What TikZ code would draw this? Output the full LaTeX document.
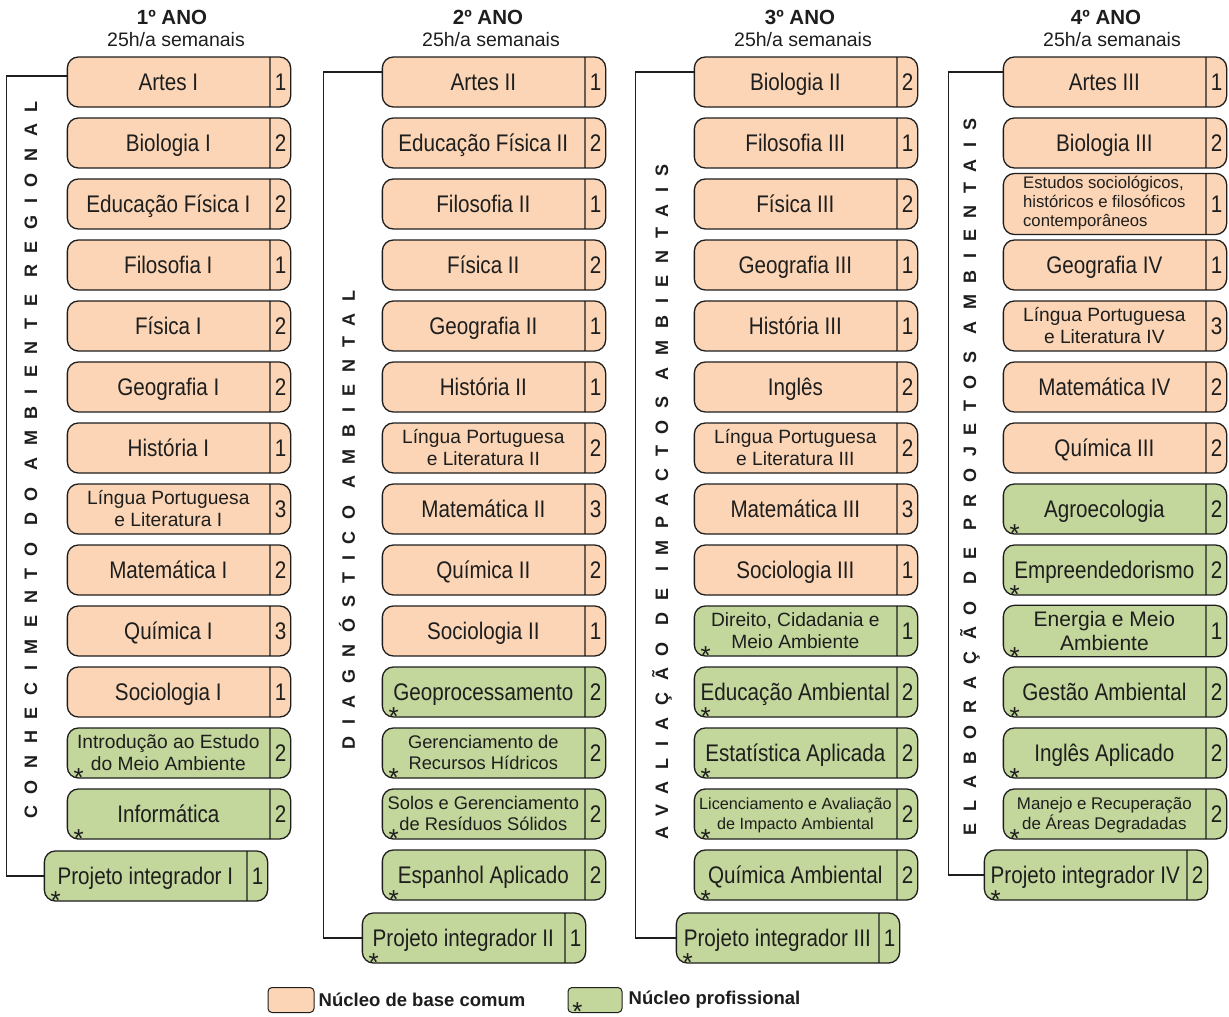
\documentclass[tikz,border=0pt]{standalone}
\usepackage{fontspec}
\setmainfont{Liberation Sans}
\newfontfamily\narrowfont{Liberation Sans}[FakeStretch=0.86]
\newfontfamily\spacedfont{Liberation Sans}[LetterSpace=65]
\usetikzlibrary{positioning,shapes.multipart}

\definecolor{peach}{RGB}{251,213,181}
\definecolor{leaf}{RGB}{195,214,155}
\definecolor{ink}{RGB}{30,30,30}

% strut that centres the capitals of the current font
\newcommand{\tstrut}{\vrule height\dimexpr\fontcharht\font`A+\fontchardp\font`g\relax depth\fontchardp\font`g width 0pt}
% one subject: name on the left, weekly hours on the right
\newcommand{\disc}[3][]{\parbox{196pt}{#1\centering\tstrut#2\tstrut}\nodepart{two}\makebox[14pt]{\tstrut#3}}
\newcommand{\sz}[2]{\rmfamily\fontsize{#1}{#2}\selectfont}
% asterisk of the professional subjects, boxed tight round the glyph
\newcommand{\starsign}{\raisebox{-0.41em}[0.31em][0pt]{*}}

\tikzset{
  disc/.style = {rectangle split, rectangle split horizontal, rectangle split parts=2,
    rectangle split part align=center, draw=ink, line width=1.3pt, rounded corners=11pt,
    minimum height=50pt, inner xsep=3pt, inner ysep=2pt, text=ink,
    font=\narrowfont\fontsize{24}{24}\selectfont},
  common/.style = {disc, fill=peach},
  prof/.style = {disc, fill=leaf, label={[starmark]south west:\starsign}},
  starmark/.style = {anchor=center, inner sep=0pt, xshift=12pt, yshift=6.5pt,
    font=\rmfamily\fontsize{26}{26}\selectfont, text=ink},
  bracket/.style = {draw=ink, line width=1.3pt},
  theme/.style = {rotate=90, text=ink, font=\spacedfont\bfseries\fontsize{18}{18}\selectfont},
  yearhd/.style = {text=ink, font=\bfseries\fontsize{20.5}{20.5}\selectfont},
  hours/.style = {text=ink, font=\fontsize{19.5}{19.5}\selectfont},
  legbox/.style = {draw=ink, line width=1pt, rounded corners=4pt, minimum height=25pt, inner sep=0pt},
  legtext/.style = {text=ink, inner sep=1pt, font=\bfseries\fontsize{18.5}{18.5}\selectfont}
}

\begin{document}
\begin{tikzpicture}[x=1pt, y=-1pt, node distance=61pt]
  \path[use as bounding box, fill=white] (0,0) rectangle (1229,1017);

  % headers
  \node[yearhd] (h1) at (172,17) {1º ANO};
  \node[hours] (s1) at (176,40) {25h/a semanais};
  \node[yearhd] (h2) at (488,17) {2º ANO};
  \node[hours] (s2) at (491,40) {25h/a semanais};
  \node[yearhd] (h3) at (800,17) {3º ANO};
  \node[hours] (s3) at (803,40) {25h/a semanais};
  \node[yearhd] (h4) at (1106,17) {4º ANO};
  \node[hours] (s4) at (1112,40) {25h/a semanais};

  % 1st year
  \node[common] (a1) at (179,82) {\disc{Artes I}{1}};
  \node[common] (a2) [below of=a1] {\disc{Biologia I}{2}};
  \node[common] (a3) [below of=a2] {\disc{Educação Física I}{2}};
  \node[common] (a4) [below of=a3] {\disc{Filosofia I}{1}};
  \node[common] (a5) [below of=a4] {\disc{Física I}{2}};
  \node[common] (a6) [below of=a5] {\disc{Geografia I}{2}};
  \node[common] (a7) [below of=a6] {\disc{História I}{1}};
  \node[common] (a8) [below of=a7] {\disc[\sz{19.2}{22}]{Língua Portuguesa\\ e Literatura I}{3}};
  \node[common] (a9) [below of=a8] {\disc{Matemática I}{2}};
  \node[common] (a10) [below of=a9] {\disc{Química I}{3}};
  \node[common] (a11) [below of=a10] {\disc{Sociologia I}{1}};
  \node[prof] (a12) [below of=a11] {\disc[\sz{19.2}{22}]{Introdução ao Estudo\\ do Meio Ambiente}{2}};
  \node[prof] (a13) [below of=a12] {\disc{Informática}{2}};
  \node[prof] (ap) at (156,876) {\disc{Projeto integrador I}{1}};

  % 2nd year
  \node[common] (b1) at (494,82) {\disc{Artes II}{1}};
  \node[common] (b2) [below of=b1] {\disc{Educação Física II}{2}};
  \node[common] (b3) [below of=b2] {\disc{Filosofia II}{1}};
  \node[common] (b4) [below of=b3] {\disc{Física II}{2}};
  \node[common] (b5) [below of=b4] {\disc{Geografia II}{1}};
  \node[common] (b6) [below of=b5] {\disc{História II}{1}};
  \node[common] (b7) [below of=b6] {\disc[\sz{19.2}{22}]{Língua Portuguesa\\ e Literatura II}{2}};
  \node[common] (b8) [below of=b7] {\disc{Matemática II}{3}};
  \node[common] (b9) [below of=b8] {\disc{Química II}{2}};
  \node[common] (b10) [below of=b9] {\disc{Sociologia II}{1}};
  \node[prof] (b11) [below of=b10] {\disc{Geoprocessamento}{2}};
  \node[prof] (b12) [below of=b11] {\disc[\sz{18.3}{21}]{Gerenciamento de\\ Recursos Hídricos}{2}};
  \node[prof] (b13) [below of=b12] {\disc[\sz{18.3}{21}]{Solos e Gerenciamento\\ de Resíduos Sólidos}{2}};
  \node[prof] (b14) [below of=b13] {\disc{Espanhol Aplicado}{2}};
  \node[prof] (bp) at (474,938) {\disc{Projeto integrador II}{1}};

  % 3rd year
  \node[common] (c1) at (806,82) {\disc{Biologia II}{2}};
  \node[common] (c2) [below of=c1] {\disc{Filosofia III}{1}};
  \node[common] (c3) [below of=c2] {\disc{Física III}{2}};
  \node[common] (c4) [below of=c3] {\disc{Geografia III}{1}};
  \node[common] (c5) [below of=c4] {\disc{História III}{1}};
  \node[common] (c6) [below of=c5] {\disc{Inglês}{2}};
  \node[common] (c7) [below of=c6] {\disc[\sz{19.2}{22}]{Língua Portuguesa\\ e Literatura III}{2}};
  \node[common] (c8) [below of=c7] {\disc{Matemática III}{3}};
  \node[common] (c9) [below of=c8] {\disc{Sociologia III}{1}};
  \node[prof] (c10) [below of=c9] {\disc[\sz{19.2}{22}]{Direito, Cidadania e\\ Meio Ambiente}{1}};
  \node[prof] (c11) [below of=c10] {\disc{Educação Ambiental}{2}};
  \node[prof] (c12) [below of=c11] {\disc{Estatística Aplicada}{2}};
  \node[prof] (c13) [below of=c12] {\disc[\sz{16.2}{20}]{Licenciamento e Avaliação\\ de Impacto Ambiental}{2}};
  \node[prof] (c14) [below of=c13] {\disc{Química Ambiental}{2}};
  \node[prof] (cp) at (788,938) {\disc{Projeto integrador III}{1}};

  % 4th year
  \node[common] (d1) at (1115,82) {\disc{Artes III}{1}};
  \node[common] (d2) [below of=d1] {\disc{Biologia III}{2}};
  \node[common] (d3) [below of=d2] {\disc[\sz{16.7}{19}]{\begin{tabular}{@{}l@{}}Estudos sociológicos,\\ históricos e filosóficos\\ contemporâneos\end{tabular}}{1}};
  \node[common] (d4) [below of=d3] {\disc{Geografia IV}{1}};
  \node[common] (d5) [below of=d4] {\disc[\sz{19.2}{22}]{Língua Portuguesa\\ e Literatura IV}{3}};
  \node[common] (d6) [below of=d5] {\disc{Matemática IV}{2}};
  \node[common] (d7) [below of=d6] {\disc{Química III}{2}};
  \node[prof] (d8) [below of=d7] {\disc{Agroecologia}{2}};
  \node[prof] (d9) [below of=d8] {\disc{Empreendedorismo}{2}};
  \node[prof] (d10) [below of=d9] {\disc[\sz{21}{22}]{Energia e Meio\\ Ambiente}{1}};
  \node[prof] (d11) [below of=d10] {\disc{Gestão Ambiental}{2}};
  \node[prof] (d12) [below of=d11] {\disc{Inglês Aplicado}{2}};
  \node[prof] (d13) [below of=d12] {\disc[\sz{16.9}{20}]{Manejo e Recuperação\\ de Áreas Degradadas}{2}};
  \node[prof] (dp) at (1096,875) {\disc{Projeto integrador IV}{2}};

  % themes of each year
  \node[theme] (t1) at (31,460) {CONHECIMENTO DO AMBIENTE REGIONAL};
  \node[theme] (t2) at (347,520) {DIAGNÓSTICO AMBIENTAL};
  \node[theme] (t3) at (662,502) {AVALIAÇÃO DE IMPACTOS AMBIENTAIS};
  \node[theme] (t4) at (970,477) {ELABORAÇÃO DE PROJETOS AMBIENTAIS};

  \draw[bracket] ([yshift=6pt]a1.west) -- ++(-60,0) |- (ap.west);
  \draw[bracket] ([yshift=10pt]b1.west) -- ++(-58,0) |- (bp.west);
  \draw[bracket] ([yshift=10pt]c1.west) -- ++(-58,0) |- (cp.west);
  \draw[bracket] ([yshift=10pt]d1.west) -- ++(-54,0) |- (dp.west);

  % legend
  \node[legbox, fill=peach, minimum width=46pt] (l1) at (291,1000) {};
  \node[legtext, anchor=west] (l1t) at ([xshift=3pt]l1.east) {Núcleo de base comum};
  \node[legbox, fill=leaf, minimum width=54pt,
    label={[starmark, xshift=-2pt, yshift=0.5pt]south west:\starsign}] (l2) at (595,1000) {};
  \node[legtext, anchor=west] (l2t) at ([xshift=5pt]l2.east) {Núcleo profissional};
\end{tikzpicture}
\end{document}
